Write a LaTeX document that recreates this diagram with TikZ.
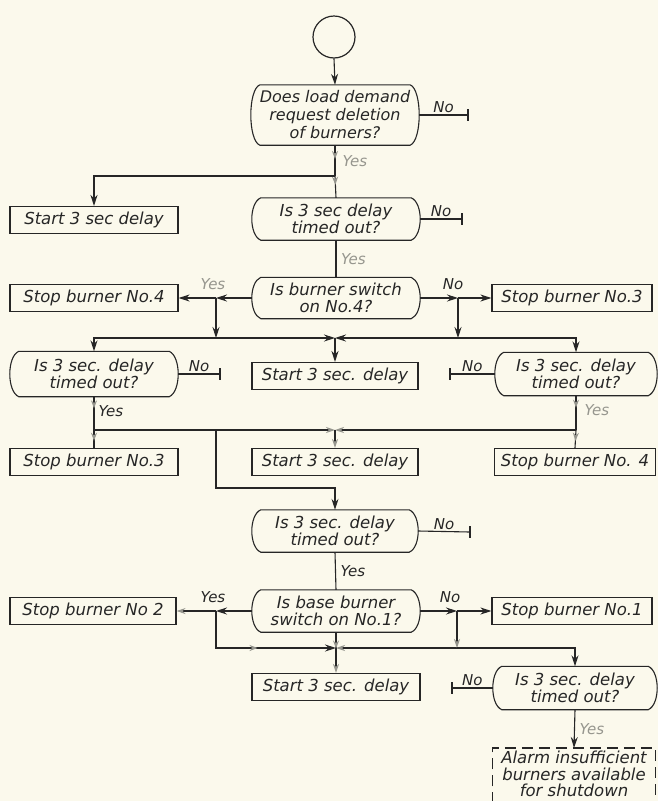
\documentclass[tikz,border=0pt]{standalone}
\usepackage{fontspec}
\setmainfont{DejaVu Sans}
\usetikzlibrary{arrows.meta,calc,decorations.markings}
\definecolor{paper}{RGB}{251,249,236}
\definecolor{ink}{RGB}{38,38,38}
\definecolor{faded}{RGB}{150,150,142}

\begin{document}
\begin{tikzpicture}[x=1pt,y=-1pt,
  every node/.style={font=\fontsize{16.5}{17.5}\selectfont\itshape, text=ink},
  flow/.style={draw=ink, line width=1.1pt},
  arr/.style={flow, -{Stealth[length=11pt,width=7pt]}},
  farr/.style={flow, -{Stealth[length=9pt,width=6pt,color=faded]}},
  fadetip/.style={postaction={decorate},
    decoration={markings, mark=at position #1 with {\arrow{Stealth[length=8pt,width=6pt,color=faded]}}}},
  box/.style={draw=ink, line width=1.1pt, minimum height=27pt, inner sep=2pt},
  decision/.style={align=center, inner sep=0pt},
  lbl/.style={font=\fontsize{15}{16}\selectfont\itshape, inner sep=1.5pt},
  fadelbl/.style={lbl, text=faded},
  ]
\path[use as bounding box] (0,0) rectangle (658,801);
\clip (0,0) rectangle (658,801);
\fill[paper] (0,0) rectangle (658,801);

% ---------- nodes ----------
\node[draw=ink, line width=1.2pt, circle, minimum size=42pt, inner sep=0pt] (st) at (334,37) {};

\node[decision, minimum width=168pt, minimum height=60pt, font=\fontsize{16}{18}\selectfont\itshape] (d1) at (335,115) {Does load demand\\request deletion\\of burners?};
\node[box, minimum width=168pt] (b1) at (94,220) {Start 3 sec delay};
\node[decision, minimum width=168pt, minimum height=42pt] (d2) at (336,219) {Is 3 sec delay\\timed out?};
\node[decision, minimum width=168pt, minimum height=41pt] (d3) at (336,298) {Is burner switch\\on No.4?};
\node[box, minimum width=168pt] (b2) at (94,298) {Stop burner No.4};
\node[box, minimum width=160pt] (b3) at (572,298) {Stop burner No.3};

\node[decision, minimum width=168pt, minimum height=45pt] (d4) at (94,374) {Is 3 sec. delay\\timed out?};
\node[box, minimum width=166pt] (b4) at (335,376) {Start 3 sec. delay};
\node[decision, minimum width=162pt, minimum height=43pt] (d5) at (576,374) {Is 3 sec. delay\\timed out?};

\node[box, minimum width=168pt] (b5) at (94,462) {Stop burner No.3};
\node[box, minimum width=166pt] (b6) at (335,462) {Start 3 sec. delay};
\node[box, minimum width=161pt] (b7) at (575,462) {Stop burner No. 4};

\node[decision, minimum width=166pt, minimum height=42pt] (d6) at (335,531) {Is 3 sec. delay\\timed out?};
\node[decision, minimum width=168pt, minimum height=42pt] (d7) at (336,611) {Is base burner\\switch on No.1?};
\node[box, minimum width=166pt] (b8) at (93,611) {Stop burner No 2};
\node[box, minimum width=160pt] (b9) at (572,611) {Stop burner No.1};

\node[box, minimum width=168pt] (b10) at (336,687) {Start 3 sec. delay};
\node[decision, minimum width=164pt, minimum height=43pt] (d8) at (575,688) {Is 3 sec. delay\\timed out?};
\node[align=center, minimum width=163pt, minimum height=52pt, inner sep=0pt, anchor=north,
      font=\fontsize{16.5}{16.5}\selectfont\itshape] (al) at (574,748)
  {Alarm insufficient\\burners available\\for shutdown};

% decision outlines: straight top and bottom, bowed ends
\foreach \n in {d1,d2,d3,d4,d5,d6,d7,d8}{
  \draw[flow] ([xshift=9pt]\n.north west) -- ([xshift=-9pt]\n.north east)
    .. controls +(12,5) and +(12,-5) .. ([xshift=-9pt]\n.south east)
    -- ([xshift=9pt]\n.south west)
    .. controls +(-12,-5) and +(-12,5) .. ([xshift=9pt]\n.north west) -- cycle;
}
% alarm box, dashed, running off the bottom edge
\coordinate (alsw) at ([yshift=-20pt]al.south west);
\coordinate (alse) at ([yshift=-20pt]al.south east);
\draw[flow, dash pattern=on 11pt off 6pt] (alsw) -- (al.north west) -- (al.north east) -- (alse);

% ---------- "No" stubs ----------
\coordinate (n1) at (468,115);
\coordinate (n2) at (462,219);
\coordinate (n4) at (220,374);
\coordinate (n5) at (450,374);
\coordinate (n6) at (470,532);
\coordinate (n8) at (452,688);
\draw[flow] (d1.east) -- (n1) node[lbl, midway, above] {No};
\draw[flow] (d2.east) -- (n2) node[lbl, midway, above] {No};
\draw[flow] (d4.east) -- (n4) node[lbl, midway, above] {No};
\draw[flow] (d5.west) -- (n5) node[lbl, midway, above] {No};
\draw[flow] (d6.east) -- (n6) node[lbl, midway, above] {No};
\draw[flow] (d8.west) -- (n8) node[lbl, midway, above] {No};
\foreach \t in {n1,n2,n4,n5,n6,n8}{
  \draw[flow] ([yshift=6pt]\t) -- ([yshift=-6pt]\t);
}

% ---------- connectors ----------
\draw[arr] (st.south) -- (d1.north);

\coordinate (j1) at (335,176);
\draw[flow, fadetip=0.45] (d1.south) -- (j1);
\draw[flow, fadetip=0.4] (j1) -- (d2.north);
\draw[arr] (j1) -| (b1.north);
\node[fadelbl, anchor=west] at (341,161) {Yes};

\draw[flow] (d2.south) -- (d3.north) node[fadelbl, midway, right=3pt] {Yes};

\coordinate (jl3) at (216,298);
\coordinate (jr3) at (458,298);
\draw[arr] (d3.west) -- (jl3);
\draw[arr] (jl3) -- (b2.east);
\draw[arr] (d3.east) -- (jr3);
\draw[arr] (jr3) -- (b3.west);
\node[fadelbl] at (213,284) {Yes};
\node[lbl] at (453,284) {No};

\coordinate (a1) at (216,338);
\coordinate (a2) at (458,338);
\coordinate (m1) at (335,338);
\draw[arr] (jl3) -- (a1);
\draw[arr] (jr3) -- (a2);
\draw[arr] (a1) -| (d4.north);
\draw[arr] (a2) -| (d5.north);
\draw[arr] (a1) -- (m1);
\draw[arr] (a2) -- (m1);
\draw[arr] (m1) -- (b4.north);

\coordinate (p1) at (94,430);
\coordinate (p2) at (576,430);
\coordinate (m2) at (335,430);
\coordinate (k1) at (216,430);
\coordinate (k2) at (335,488);
\draw[flow, fadetip=0.35] (d4.south) -- (p1);
\draw[flow, fadetip=0.6] (p1) -- (b5.north);
\node[lbl, anchor=west] at (97,411) {Yes};
\draw[flow, fadetip=0.35] (d5.south) -- (p2);
\draw[flow, fadetip=0.6] (p2) -- (b7.north);
\node[fadelbl, anchor=west] at (583,410) {Yes};
\draw[farr] (p1) -- (m2);
\draw[farr] (p2) -- (m2);
\draw[farr] (m2) -- (b6.north);
\draw[arr] (k1) |- (k2) -- (d6.north);

\draw[flow] (d6.south) -- (d7.north) node[lbl, midway, right=3pt] {Yes};

\coordinate (jl7) at (216,611);
\coordinate (jr7) at (457,611);
\coordinate (x7) at (336,648);
\coordinate (y7) at (457,648);
\draw[arr] (d7.west) -- (jl7);
\draw[farr] (jl7) -- (b8.east);
\draw[arr] (d7.east) -- (jr7);
\draw[arr] (jr7) -- (b9.west);
\node[lbl] at (213,597) {Yes};
\node[lbl] at (450,597) {No};
\draw[arr, fadetip=0.5] (jl7) |- (x7);
\draw[farr] (y7) -- (x7);
\draw[farr] (jr7) -- (y7);
\draw[arr] (y7) -| (d8.north);
\draw[farr, fadetip=0.4] (d7.south) -- (b10.north);

\draw[arr] (d8.south) -- (al.north) node[fadelbl, midway, right=3pt] {Yes};
\end{tikzpicture}
\end{document}
